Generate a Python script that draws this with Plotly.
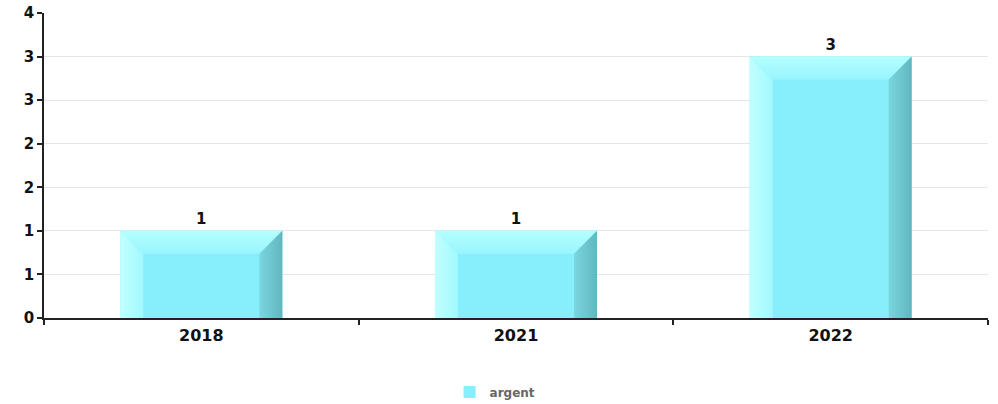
import math
import plotly.graph_objects as go

categories = ["2018", "2021", "2022"]
values = [1, 1, 3]
series_name = "argent"
y_tickvals = [0, 0.5, 1, 1.5, 2, 2.5, 3, 3.5]
y_ticktext = [str(int(math.floor(v + 0.5))) for v in y_tickvals]

# style constants
BAR_W = 0.515
DX = 0.073   # bevel width in x units
DY = 0.264   # bevel height in y units
FONT = "DejaVu Sans"

xs = list(range(len(categories)))
fig = go.Figure()

fig.add_trace(go.Bar(
    x=xs, y=values, width=BAR_W, name=series_name,
    marker=dict(color="#87EFFC", line=dict(width=0)),
    text=[str(v) for v in values], textposition="outside",
    textfont=dict(family=FONT, size=15, color="#111111", weight="bold"),
    cliponaxis=False, showlegend=True,
))

for c, v in zip(xs, values):
    x0, x1 = c - BAR_W / 2, c + BAR_W / 2
    # left strip
    fig.add_trace(go.Scatter(
        x=[x0, x0, x0 + DX, x0 + DX, x0], y=[0, v, v - DY, 0, 0],
        fill="toself", mode="lines", line=dict(width=0),
        fillgradient=dict(type="horizontal", colorscale=[[0, "#C2FFFF"], [1, "#A0F9FF"]]),
        showlegend=False, hoverinfo="skip"))
    # top strip
    fig.add_trace(go.Scatter(
        x=[x0, x1, x1 - DX, x0 + DX, x0], y=[v, v, v - DY, v - DY, v],
        fill="toself", mode="lines", line=dict(width=0),
        fillgradient=dict(type="vertical", colorscale=[[0, "#98F5FF"], [1, "#B4FFFF"]]),
        showlegend=False, hoverinfo="skip"))
    # right strip
    fig.add_trace(go.Scatter(
        x=[x1 - DX, x1 - DX, x1, x1, x1 - DX], y=[0, v - DY, v, 0, 0],
        fill="toself", mode="lines", line=dict(width=0),
        fillgradient=dict(type="horizontal", colorscale=[[0, "#7AD6DF"], [1, "#62B6BF"]]),
        showlegend=False, hoverinfo="skip"))

fig.update_layout(
    width=998, height=404,
    margin=dict(l=44, r=10, t=13, b=86, autoexpand=False),
    plot_bgcolor="white", paper_bgcolor="white",
    font=dict(family=FONT, color="#111111"),
    legend=dict(orientation="h", x=0.4778, xanchor="center", y=-0.243, yanchor="middle",
                font=dict(family=FONT, size=12, color="#666666", weight="bold"),
                itemsizing="constant"),
    hovermode=False,
)
fig.update_xaxes(
    range=[-0.5, len(categories) - 0.5],
    tickmode="array", tickvals=xs, ticktext=categories,
    ticks="outside", ticklen=2, tickcolor="rgba(0,0,0,0)",
    tickfont=dict(family=FONT, size=16, color="#111111", weight="bold"),
    showline=True, linecolor="#222222", linewidth=1.5,
    showgrid=False, zeroline=False, layer="below traces", automargin=False,
    minor=dict(tickmode="array", tickvals=[i - 0.5 for i in range(len(categories) + 1)],
               ticks="outside", ticklen=5, tickcolor="#222222", tickwidth=1.5, showgrid=False),
)
fig.update_yaxes(
    range=[0, y_tickvals[-1]],
    tickmode="array", tickvals=y_tickvals, ticktext=y_ticktext,
    ticks="outside", ticklen=5, tickcolor="#222222", tickwidth=1.5,
    tickfont=dict(family=FONT, size=15, color="#111111", weight="bold"),
    showline=True, linecolor="#222222", linewidth=1.5, automargin=False,
    showgrid=True, gridcolor="#E6E6E6", gridwidth=1, zeroline=False,
)

fig.write_html("out.html", config={"displayModeBar": False},
               post_script="document.body.style.margin='0';document.body.style.overflow='hidden';")
